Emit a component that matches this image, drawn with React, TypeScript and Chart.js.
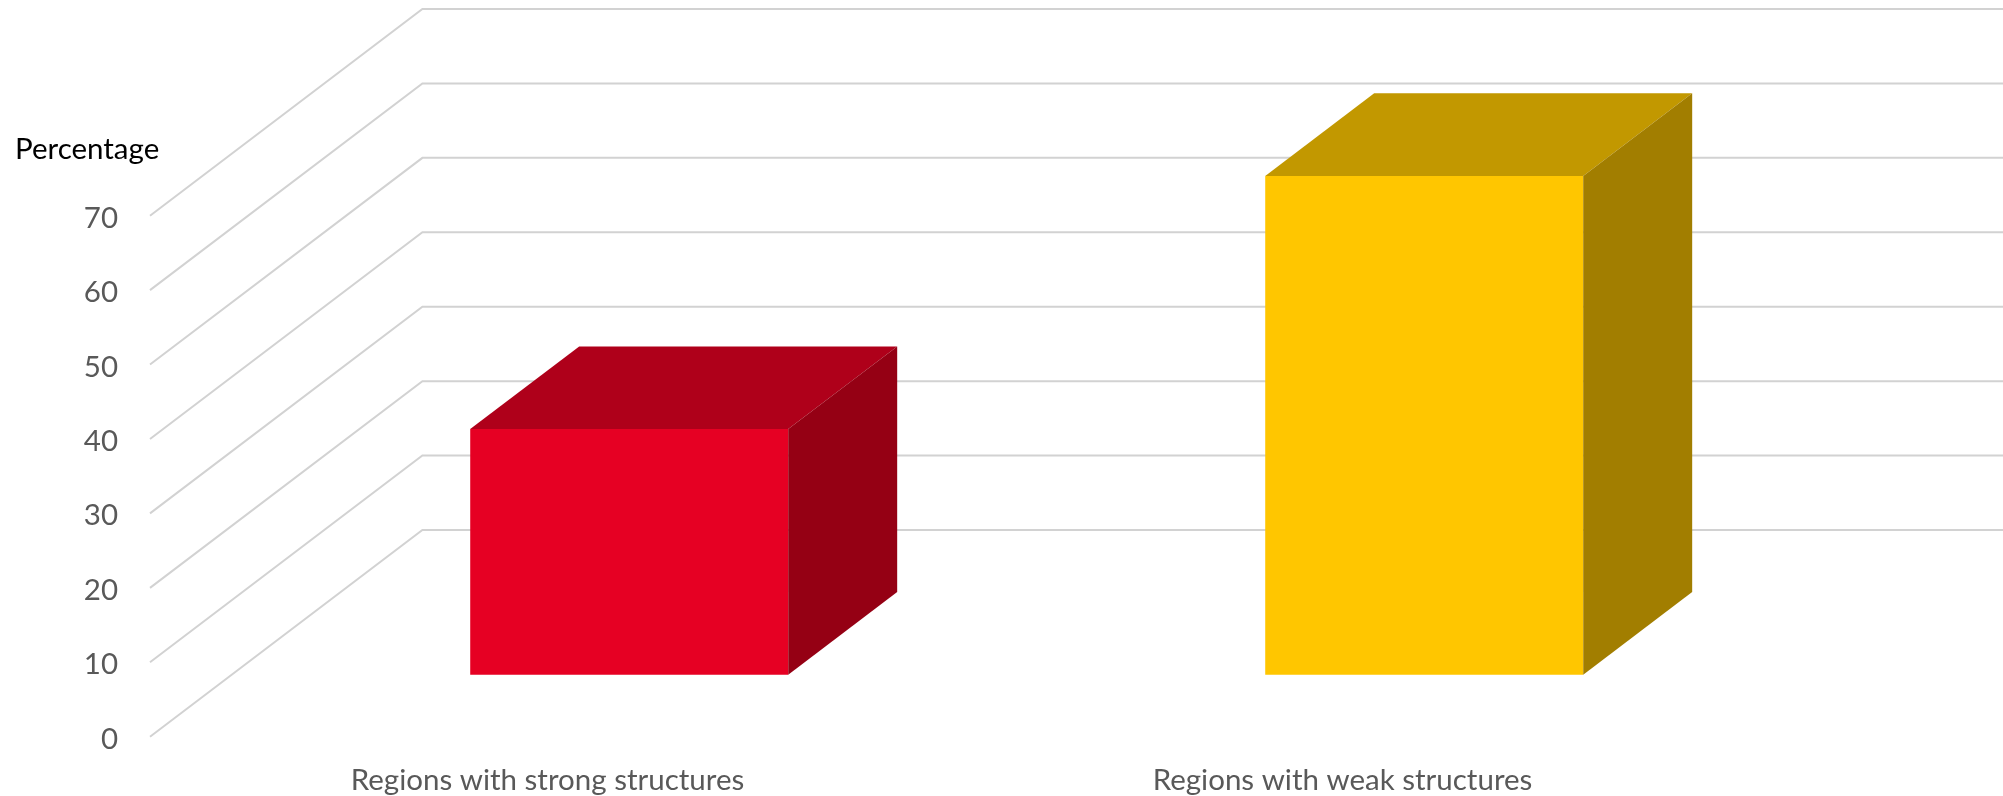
import React, { useEffect, useRef } from 'react';
import { Chart, registerables } from 'chart.js';

Chart.register(...registerables);

// ---- Data ----
const categories = ['Regions with strong structures', 'Regions with weak structures'];
const percentages = [33, 67];
const yTickValues = [0, 10, 20, 30, 40, 50, 60, 70];
const axisTitle = 'Percentage';

// ---- Styles ----
const frontColors = ['#E60023', '#FFC600'];
const topColors = ['#AF001A', '#C29800'];
const sideColors = ['#950014', '#A27E00'];
const GRID_COLOR = '#D2D2D2';
const FONT_FAMILY = 'Lato, "Open Sans", sans-serif';
const FONT_SIZE = 29.5;

// 3D depth vector (pixels) of the whole floor, and bar placement along it
const DEPTH_X = 272.4;
const DEPTH_Y = -206.7;
const BAR_START = 0.3;
const BAR_DEPTH = 0.4;

const depthPlugin = {
  id: 'depth3d',
  beforeDatasetsDraw(chart: any) {
    const { ctx, chartArea, scales } = chart;
    const y = scales.y;
    ctx.save();
    ctx.strokeStyle = GRID_COLOR;
    ctx.lineWidth = 2;
    ctx.lineJoin = 'miter';
    for (const v of yTickValues) {
      const py = y.getPixelForValue(v);
      ctx.beginPath();
      ctx.moveTo(chartArea.left, py);
      ctx.lineTo(chartArea.left + DEPTH_X, py + DEPTH_Y);
      ctx.lineTo(chart.width + 5, py + DEPTH_Y);
      ctx.stroke();
    }
    ctx.restore();
    ctx.save();
    ctx.translate(DEPTH_X * BAR_START, DEPTH_Y * BAR_START);
  },
  afterDatasetsDraw(chart: any) {
    const ctx = chart.ctx;
    const meta = chart.getDatasetMeta(0);
    const bx = DEPTH_X * BAR_DEPTH;
    const by = DEPTH_Y * BAR_DEPTH;
    meta.data.forEach((bar: any, i: number) => {
      const { x, y, base, width } = bar.getProps(['x', 'y', 'base', 'width'], true);
      const L = x - width / 2;
      const R = x + width / 2;
      const T = Math.min(y, base);
      const B = Math.max(y, base);
      // top face
      ctx.beginPath();
      ctx.moveTo(L, T);
      ctx.lineTo(L + bx, T + by);
      ctx.lineTo(R + bx, T + by);
      ctx.lineTo(R, T);
      ctx.closePath();
      ctx.fillStyle = topColors[i];
      ctx.fill();
      // side face
      ctx.beginPath();
      ctx.moveTo(R, T);
      ctx.lineTo(R + bx, T + by);
      ctx.lineTo(R + bx, B + by);
      ctx.lineTo(R, B);
      ctx.closePath();
      ctx.fillStyle = sideColors[i];
      ctx.fill();
    });
    ctx.restore();
  },
};

export default function App() {
  const canvasRef = useRef<HTMLCanvasElement | null>(null);

  useEffect(() => {
    document.body.style.margin = '0';
    document.body.style.overflow = 'hidden';
    const canvas = canvasRef.current;
    if (!canvas) return;
    const chart = new Chart(canvas, {
      type: 'bar',
      data: {
        labels: categories,
        datasets: [
          {
            label: axisTitle,
            data: percentages,
            backgroundColor: frontColors,
            borderWidth: 0,
            categoryPercentage: 1,
            barPercentage: 0.4,
            clip: false as any,
          },
        ],
      },
      options: {
        responsive: false,
        animation: false,
        devicePixelRatio: 1,
        layout: { padding: { left: 15, right: 263, top: 0, bottom: 0 } },
        plugins: {
          legend: { display: false },
          tooltip: { enabled: false },
          title: {
            display: true,
            text: axisTitle,
            align: 'start',
            color: '#000000',
            font: { family: FONT_FAMILY, size: FONT_SIZE, weight: 'normal' },
            padding: { top: 132, bottom: 48.3 },
          },
        },
        scales: {
          x: {
            grid: { display: false, drawTicks: false },
            border: { display: false },
            ticks: {
              color: '#595959',
              font: { family: FONT_FAMILY, size: FONT_SIZE },
              padding: 26,
              maxRotation: 0,
            },
            afterFit: (s: any) => {
              s.height = 59.3;
            },
          },
          y: {
            min: 0,
            max: 70,
            grid: { display: false, drawTicks: false },
            border: { display: false },
            ticks: {
              color: '#595959',
              font: { family: FONT_FAMILY, size: FONT_SIZE },
              padding: 32,
              labelOffset: 2.5,
            },
            afterBuildTicks: (s: any) => {
              s.ticks = yTickValues.map((v) => ({ value: v }));
            },
            afterFit: (s: any) => {
              s.width = 135;
            },
          },
        },
      },
      plugins: [depthPlugin],
    });
    return () => chart.destroy();
  }, []);

  return (
    <div style={{ width: 2003, height: 796 }}>
      <canvas ref={canvasRef} width={2003} height={796} style={{ display: 'block' }} />
    </div>
  );
}
